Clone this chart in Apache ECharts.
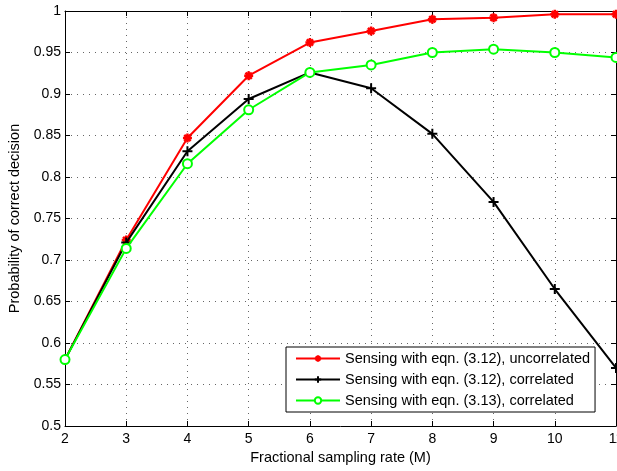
<!DOCTYPE html>
<html>
<head>
<meta charset="utf-8">
<script src="https://cdn.jsdelivr.net/npm/echarts@6/dist/echarts.min.js"></script>
<style>html,body{margin:0;padding:0;background:#fff;}#c{width:617px;height:471px;}</style>
</head>
<body>
<div id="c"></div>
<script>
var xValues = [2, 3, 4, 5, 6, 7, 8, 9, 10, 11];
var redUncorr = [0.580, 0.724, 0.847, 0.922, 0.962, 0.976, 0.990, 0.992, 0.996, 0.996];
var blackCorr = [0.580, 0.721, 0.831, 0.894, 0.926, 0.907, 0.852, 0.770, 0.665, 0.570];
var greenCorr = [0.580, 0.714, 0.816, 0.881, 0.926, 0.935, 0.950, 0.954, 0.950, 0.944];
var seriesNames = [
  'Sensing with eqn. (3.12), uncorrelated',
  'Sensing with eqn. (3.12), correlated',
  'Sensing with eqn. (3.13), correlated'
];
var xTitle = 'Fractional sampling rate (M)';
var yTitle = 'Probability of correct decision';

function pairs(ys) { return xValues.map(function (x, i) { return [x, ys[i]]; }); }

var FONT = 'Liberation Sans, Arial, Helvetica, sans-serif';
var asterisk = 'path://M5 0 L5 10 M0 5 L10 5 M1.5 1.5 L8.5 8.5 M8.5 1.5 L1.5 8.5';
var plus = 'path://M5 0 L5 10 M0 5 L10 5';
var gridLine = { show: true, lineStyle: { color: '#666', width: 1, type: [1, 5] } };

var chart = echarts.init(document.getElementById('c'), null, { renderer: 'canvas' });
chart.setOption({
  animation: false,
  backgroundColor: '#fff',
  textStyle: { fontFamily: FONT },
  grid: { left: 65, right: 1, top: 11, bottom: 45, containLabel: false, outerBoundsMode: 'none' },
  legend: {
    orient: 'vertical',
    left: 286, top: 347,
    padding: [4, 5, 4, 9],
    itemWidth: 44, itemHeight: 8, itemGap: 6,
    borderColor: '#000', borderWidth: 1, backgroundColor: '#fff',
    textStyle: { fontSize: 14.5, color: '#000', fontFamily: FONT },
    data: seriesNames
  },
  xAxis: [{
    type: 'value', min: 2, max: 11, interval: 1,
    name: xTitle, nameLocation: 'middle', nameGap: 24,
    nameTextStyle: { fontSize: 14.5, color: '#000', fontFamily: FONT },
    axisLine: { show: true, lineStyle: { color: '#000', width: 1 } },
    axisTick: { show: true, inside: true, length: 5, lineStyle: { color: '#000' } },
    axisLabel: { fontSize: 14, color: '#000', margin: 6, fontFamily: FONT, showMaxLabel: true },
    splitLine: gridLine
  }, {
    type: 'value', min: 2, max: 11, interval: 1, position: 'top',
    axisLine: { show: true, lineStyle: { color: '#000', width: 1 } },
    axisTick: { show: true, inside: true, length: 5, lineStyle: { color: '#000' } },
    axisLabel: { show: false }, splitLine: { show: false }
  }],
  yAxis: [{
    type: 'value', min: 0.5, max: 1, interval: 0.05,
    name: yTitle, nameLocation: 'middle', nameGap: 42, nameRotate: 90,
    nameTextStyle: { fontSize: 14.5, color: '#000', fontFamily: FONT },
    axisLine: { show: true, lineStyle: { color: '#000', width: 1 } },
    axisTick: { show: true, inside: true, length: 5, lineStyle: { color: '#000' } },
    axisLabel: { fontSize: 14, color: '#000', margin: 4, fontFamily: FONT },
    splitLine: gridLine
  }, {
    type: 'value', min: 0.5, max: 1, interval: 0.05, position: 'right',
    axisLine: { show: true, lineStyle: { color: '#000', width: 1 } },
    axisTick: { show: true, inside: true, length: 5, lineStyle: { color: '#000' } },
    axisLabel: { show: false }, splitLine: { show: false }
  }],
  series: [{
    name: seriesNames[0], type: 'line', data: pairs(redUncorr),
    symbol: asterisk, symbolSize: 9, showAllSymbol: true,
    lineStyle: { color: '#ff0000', width: 2 },
    itemStyle: { color: '#ff0000', borderColor: '#ff0000', borderWidth: 2.5 },
    z: 3
  }, {
    name: seriesNames[1], type: 'line', data: pairs(blackCorr),
    symbol: plus, symbolSize: 10, showAllSymbol: true,
    lineStyle: { color: '#000000', width: 2 },
    itemStyle: { color: '#000000', borderColor: '#000000', borderWidth: 2 },
    z: 4
  }, {
    name: seriesNames[2], type: 'line', data: pairs(greenCorr),
    symbol: 'emptyCircle', symbolSize: 9, showAllSymbol: true,
    lineStyle: { color: '#00ff00', width: 2 },
    itemStyle: { color: '#00ff00', borderColor: '#00ff00', borderWidth: 2 },
    z: 5
  }]
});
</script>
</body>
</html>
